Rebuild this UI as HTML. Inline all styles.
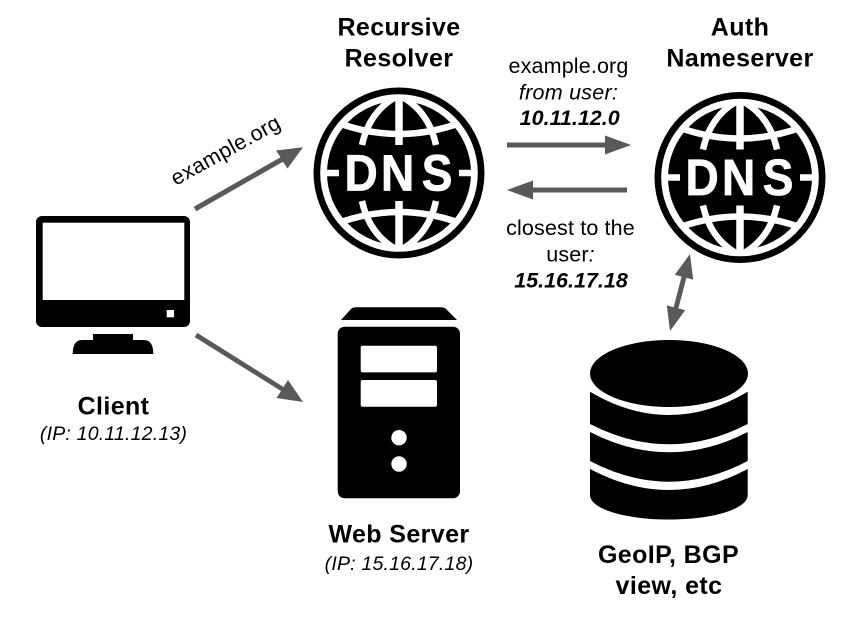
<!DOCTYPE html>
<html><head><meta charset="utf-8"><style>html,body{margin:0;padding:0;background:#fff}svg{display:block}text{font-family:"Liberation Sans",Arial,sans-serif;text-anchor:middle;fill:#000}.b{font-weight:bold;font-size:25px;letter-spacing:.4px}.r{font-size:21.5px;letter-spacing:.15px}.i{font-style:italic;font-size:19.5px;letter-spacing:.2px}.bi{font-style:italic;font-weight:bold;font-size:21.5px}</style></head><body>
<svg width="850" height="620" viewBox="0 0 850 620" xmlns="http://www.w3.org/2000/svg">
<defs>
<g id="globe">
<circle r="85.5" fill="#000"/>
<circle r="75.4" fill="none" stroke="#fff" stroke-width="6.800"/>
<g fill="none" stroke="#fff" stroke-width="6.500">
<path d="M0 -74V-28M0 28V74" stroke-width="7.500"/>
<path d="M-58 -49Q0 -29 58 -49M-58 49Q0 29 58 49"/>
<path d="M-5 -75Q-30 -60 -37 -28M5 -75Q30 -60 37 -28M-5 75Q-30 60 -37 28M5 75Q30 60 37 28"/>
<path d="M-74 0H-60M60 0H74"/>
</g>
<text transform="scale(1 1.1)" y="15.800" x="-54.500 -18 22.800" font-size="46" font-weight="bold" style="fill:#fff;stroke:#fff;stroke-width:.7px;text-anchor:start">DNS</text>
</g>
</defs>
<use href="#globe" x="399" y="173"/>
<use href="#globe" x="740" y="177.5"/>

<!-- monitor -->
<rect x="36" y="216" width="154" height="111" rx="6" fill="#000"/>
<rect x="42.7" y="222.7" width="141.6" height="77.3" fill="#fff"/>
<rect x="166.7" y="310" width="7.3" height="7.3" fill="#fff"/>
<path d="M93 334H133V340H144Q153.300 340 153.300 354H72.700Q72.700 340 82 340H93Z" fill="#000"/>

<!-- server -->
<path d="M341 320L351 309Q353 307.300 356 307.300H440Q444 307.300 446 309L457 320Z" fill="#000"/>
<rect x="337.700" y="326.700" width="122.300" height="171.600" rx="7" fill="#000"/>
<rect x="360.700" y="345.700" width="76.300" height="26.700" rx="2" fill="#fff"/>
<rect x="360.700" y="380" width="76.300" height="26.700" rx="2" fill="#fff"/>
<circle cx="399" cy="437.700" r="7.700" fill="#fff"/>
<circle cx="399" cy="464" r="7.700" fill="#fff"/>

<!-- database -->
<g fill="#000">
<ellipse cx="669" cy="373.500" rx="79" ry="33.500"/>
<path d="M590 391.700Q669 438.300 747.700 391.700V424Q669 464.600 590 424Z"/>
<path d="M590 432Q669 472.600 747.700 432V461Q669 502.400 590 461Z"/>
<path d="M590 469Q669 511 747.700 469V495C747.700 509 713 519.500 669 519.500C625 519.500 590 509 590 495Z"/>
</g>

<!-- arrows -->
<g fill="#595959" stroke="none">
<path d="M193.800 206.800L280.500 157.300L276 150.500L303 147.300L287.500 168.500L283 161.700L196.200 211.200Z"/>
<path d="M197.300 332.900L283.500 387L288 380L303 402L276.500 398L281 391L194.700 337.100Z"/>
<rect x="507" y="142.500" width="100" height="5"/>
<path d="M605 135.500L631 145L605 154.500Z"/>
<rect x="533" y="187.500" width="94" height="5"/>
<path d="M533 180.500L507 190L533 199.500Z"/>
<path d="M690 254L693.200 279.600L686.400 277.800L678.400 308.400L685.200 310.200L670 331L666.800 305.400L673.600 307.200L681.600 276.600L674.800 274.800Z"/>
</g>

<!-- labels -->
<text class="b" x="399" y="35.500">Recursive</text>
<text class="b" x="399" y="66.500">Resolver</text>
<text class="b" x="740" y="35.500">Auth</text>
<text class="b" x="740" y="66.500">Nameserver</text>
<text class="r" x="568.500" y="73">example.org</text>
<text class="r" x="568.500" y="99.300" style="font-style:italic;letter-spacing:.25px">from user:</text>
<text class="bi" x="569.700" y="125">10.11.12.0</text>
<text class="r" x="570.500" y="235">closest to the</text>
<text class="r" x="570.500" y="261.700">user<tspan font-style="italic">:</tspan></text>
<text class="bi" x="571" y="287.500">15.16.17.18</text>
<text class="r" transform="translate(229 156.500) rotate(-29)" style="letter-spacing:.3px">example.org</text>
<text class="b" x="113.500" y="414.500">Client</text>
<text class="i" x="113.500" y="440">(IP: 10.11.12.13)</text>
<text class="b" x="399" y="542.500">Web Server</text>
<text class="i" x="399" y="570">(IP: 15.16.17.18)</text>
<text class="b" x="668.500" y="563">GeoIP, BGP</text>
<text class="b" x="669" y="594">view, etc</text>
</svg>
</body></html>
